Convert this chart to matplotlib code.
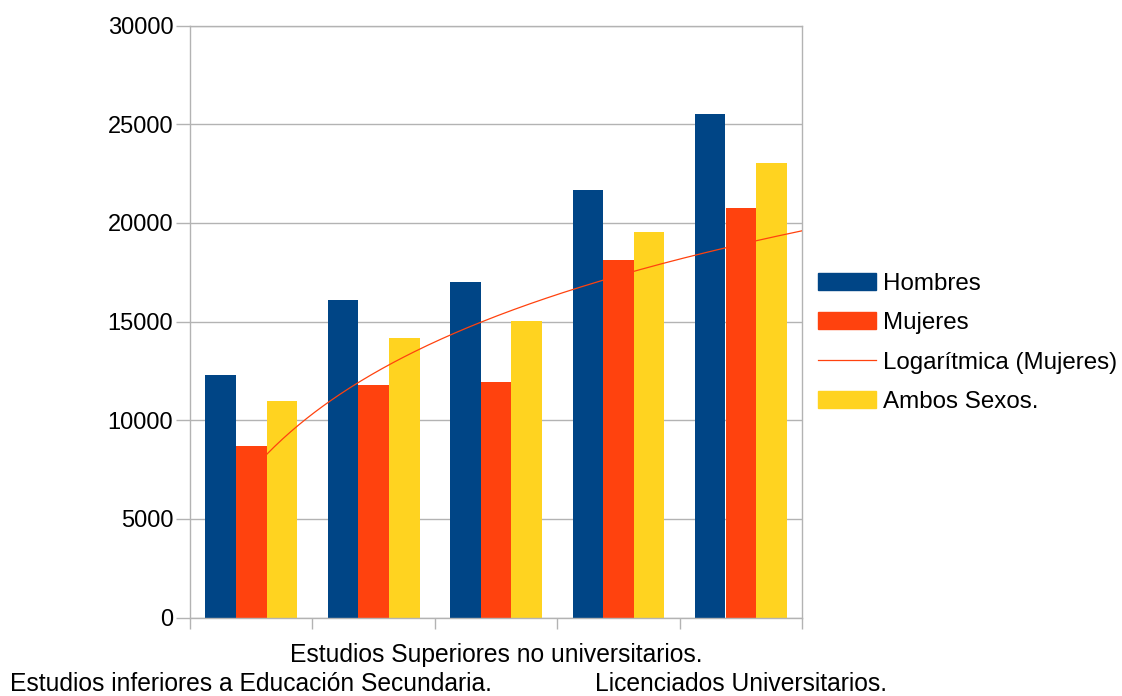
import numpy as np
import matplotlib
matplotlib.use("Agg")
import matplotlib.pyplot as plt
from matplotlib.lines import Line2D
from matplotlib.patches import Patch

plt.rcParams['font.family'] = ['Liberation Sans', 'DejaVu Sans']

categories = ["Estudios inferiores a Educación Secundaria.", "",
              "Estudios Superiores no universitarios.", "",
              "Licenciados Universitarios."]
hombres = [12300, 16100, 17010, 21670, 25520]
mujeres = [8700, 11790, 11940, 18120, 20760]
ambos = [10980, 14170, 15020, 19540, 23040]
series_names = ["Hombres", "Mujeres", "Logarítmica (Mujeres)", "Ambos Sexos."]
colors = {"Hombres": "#004586", "Mujeres": "#ff420e", "Ambos": "#ffd320"}
yticks = [0, 5000, 10000, 15000, 20000, 25000, 30000]

fig = plt.figure(figsize=(11.22, 6.96), dpi=100)
ax = fig.add_axes([190/1122, 78.4/696, 612/1122, 592/696])

x = np.arange(1, len(hombres) + 1)
w = 0.25
ax.bar(x - w, hombres, width=w, color=colors["Hombres"], zorder=2)
ax.bar(x, mujeres, width=w, color=colors["Mujeres"], zorder=2)
ax.bar(x + w, ambos, width=w, color=colors["Ambos"], zorder=2)

# logarithmic trend line fitted to Mujeres
a, b = np.polyfit(np.log(x), mujeres, 1)
xt = np.linspace(1.125, 5.5, 200)
ax.plot(xt, a * np.log(xt) + b, color="#ff420e", lw=0.9, zorder=3)

ax.set_xlim(0.5, 5.5)
ax.set_ylim(0, 30000)
ax.set_yticks(yticks)
ax.set_yticklabels([str(t) for t in yticks], fontsize=17)
ax.grid(axis='y', color='#b3b3b3', lw=1, zorder=0)
ax.set_axisbelow(True)
for s in ax.spines.values():
    s.set_color('#b3b3b3')
    s.set_linewidth(1)
ax.tick_params(axis='y', length=10, color='#b3b3b3', width=1, pad=2)
ax.set_xticks(np.arange(0.5, 6.0, 1.0))
ax.set_xticklabels([])
ax.tick_params(axis='x', length=8, color='#b3b3b3', width=1)

for i, lab in enumerate(categories):
    if not lab:
        continue
    off = -37.4 * 0.72 if i % 4 == 2 else -66.4 * 0.72
    ax.annotate(lab, xy=(x[i], 0), xycoords=('data', 'axes fraction'),
                xytext=(0, off), textcoords='offset points',
                ha='center', va='center', fontsize=17.7)

handles = [Patch(color=colors["Hombres"]), Patch(color=colors["Mujeres"]),
           Line2D([], [], color="#ff420e", lw=0.9), Patch(color=colors["Ambos"])]
fig.legend(handles, series_names, loc='center left',
           bbox_to_anchor=(818/1122, 0.5073), frameon=False, fontsize=17.4,
           borderpad=0, borderaxespad=0, handlelength=2.4, handleheight=0.7,
           handletextpad=0.3, labelspacing=0.72)

fig.savefig("out.png", dpi=100)
